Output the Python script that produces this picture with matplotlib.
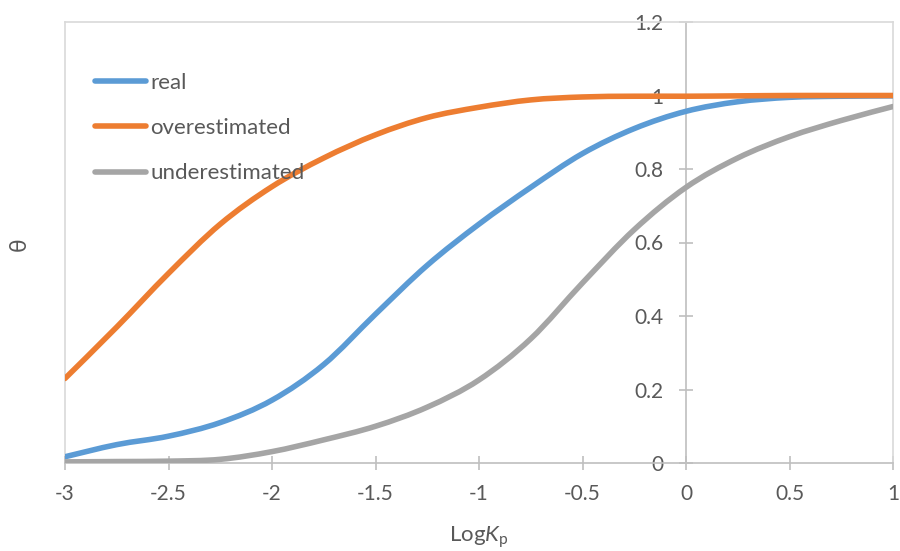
import numpy as np
import matplotlib
matplotlib.use("Agg")
import matplotlib.pyplot as plt
from matplotlib.path import Path
from matplotlib.patches import PathPatch
from matplotlib.lines import Line2D

plt.rcParams["font.family"] = ["Lato", "DejaVu Sans"]
plt.rcParams["mathtext.fontset"] = "custom"
plt.rcParams["mathtext.rm"] = "Lato"
plt.rcParams["mathtext.it"] = "Lato:italic"

# log Kp values and coverage curves
log_kp = [-3, -2.75, -2.5, -2.25, -2, -1.75, -1.5, -1.25, -1,
          -0.75, -0.5, -0.25, 0, 0.25, 0.5, 0.75, 1]
theta_real = [0.017, 0.05, 0.073, 0.11, 0.171, 0.268, 0.405, 0.538, 0.65,
              0.75, 0.842, 0.91, 0.957, 0.983, 0.995, 0.998, 0.999]
theta_over = [0.23, 0.37, 0.516, 0.65, 0.752, 0.83, 0.893, 0.94, 0.968,
              0.988, 0.996, 0.998, 0.998, 0.999, 1.0, 1.0, 1.0]
theta_under = [0.003, 0.004, 0.005, 0.01, 0.031, 0.063, 0.1, 0.152, 0.226,
               0.338, 0.49, 0.635, 0.75, 0.83, 0.888, 0.932, 0.97]

series_names = ["real", "overestimated", "underestimated"]
series_colors = ["#5B9BD5", "#ED7D31", "#A5A5A5"]

x_ticks = [-3, -2.5, -2, -1.5, -1, -0.5, 0, 0.5, 1]
y_ticks = [0, 0.2, 0.4, 0.6, 0.8, 1, 1.2]

TEXT = "#595959"
AXIS = "#BFBFBF"
FRAME = "#D9D9D9"
LW = 4.0


def smooth_path(xs, ys):
    """Cubic Bezier path through the points (Catmull-Rom style smoothing)."""
    pts = np.column_stack([xs, ys]).astype(float)
    n = len(pts)
    verts = [pts[0]]
    codes = [Path.MOVETO]
    for i in range(n - 1):
        p0 = pts[i - 1] if i > 0 else pts[i]
        p1 = pts[i]
        p2 = pts[i + 1]
        p3 = pts[i + 2] if i + 2 < n else pts[i + 1]
        c1 = p1 + (p2 - p0) / 6.0
        c2 = p2 - (p3 - p1) / 6.0
        verts += [c1, c2, p2]
        codes += [Path.CURVE4] * 3
    return Path(np.array(verts), codes)


fig = plt.figure(figsize=(9, 5.51), dpi=100)
ax = fig.add_axes([65 / 900, 1 - 463 / 551, (893 - 65) / 900, (463 - 22) / 551])

ax.set_xlim(-3, 1)
ax.set_ylim(0, 1.2)

handles = []
for ys, name, col in zip([theta_real, theta_over, theta_under], series_names, series_colors):
    patch = PathPatch(smooth_path(log_kp, ys), facecolor="none", edgecolor=col,
                      lw=LW, capstyle="round", joinstyle="round", zorder=3)
    ax.add_patch(patch)
    handles.append(Line2D([], [], color=col, lw=LW, solid_capstyle="round", label=name))

# axes crossing at zero, Excel style
ax.spines["left"].set_position(("data", 0))
ax.spines["bottom"].set_position(("data", 0))
for s in ("left", "bottom"):
    ax.spines[s].set_color(AXIS)
    ax.spines[s].set_linewidth(1.2)
for s in ("top", "right"):
    ax.spines[s].set_color(FRAME)
    ax.spines[s].set_linewidth(1.2)
ax.plot([0, 0], [0, 1], transform=ax.transAxes, color=FRAME, lw=1.2, zorder=1, clip_on=False)

ax.set_xticks(x_ticks)
ax.set_xticklabels([f"{v:g}" for v in x_ticks])
ax.set_yticks(y_ticks)
ax.set_yticklabels([f"{v:g}" for v in y_ticks])
ax.tick_params(axis="both", direction="inout", length=10, width=1.2, color=AXIS,
               labelcolor=TEXT, labelsize=15)
ax.tick_params(axis="x", pad=10)
ax.tick_params(axis="y", pad=11.5)

fig.text((65 + 893) / 2 / 900, 1 - 537 / 551, r"Log$\mathit{K}_{\mathrm{p}}$",
         ha="center", va="center", color=TEXT, fontsize=16)
fig.text(19 / 900, 1 - 244 / 551, "θ", rotation=90, ha="center", va="center",
         color=TEXT, fontsize=16.5)

leg = ax.legend(handles=handles, loc="upper left", bbox_to_anchor=(0.0362, 0.885),
                frameon=False, fontsize=16, handlelength=2.3, handletextpad=0.2,
                labelspacing=1.14, borderaxespad=0, borderpad=0)
for t in leg.get_texts():
    t.set_color(TEXT)

fig.savefig("out.png", dpi=100, facecolor="white")
